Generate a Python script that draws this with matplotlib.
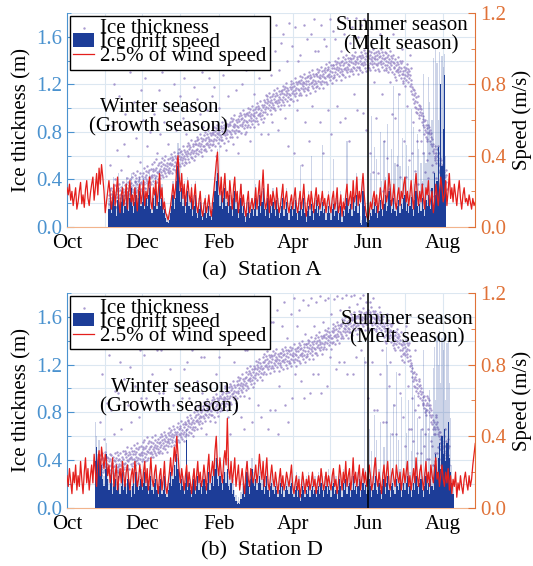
import matplotlib
matplotlib.use('Agg')
import matplotlib.pyplot as plt
import matplotlib.dates as mdates
from matplotlib.ticker import MultipleLocator, FormatStrFormatter
import numpy as np
import pandas as pd

plt.rcParams['font.family'] = ['Liberation Serif', 'DejaVu Serif']

BLUE_AX = '#4a92cf'
ORANGE_AX = '#e07238'
ICE_C = '#9a89c8'
DRIFT_C = '#1d3d98'
WIND_C = '#e41f1c'
GRID_C = '#dce7f1'

X_START = '2019-10-01'
X_END = '2020-08-27'
SEASON_SPLIT = '2020-06-01'

# ---- Station A ----  (values in cm or cm/s)
wind_start_a = '2019-10-01'   # daily, 2.5% of wind speed, one row per month
wind_a = """
22 18 24 15 20 12 17 22 10 14 20 25 13 18 11 21 26 16 12 19 24 28 15 22 30 18 33 24 35 28 20
8 14 20 26 18 10 16 24 12 20 28 14 8 18 22 12 16 24 10 20 26 14 18 12 22 16 9 20 24 13
18 26 12 20 16 24 28 14 10 22 18 26 12 20 30 16 22 10 14 8 6 4 8 12 18 24 16 22 34 40 28
20 30 16 24 12 20 26 18 14 22 10 16 24 12 8 14 20 10 6 12 16 8 12 18 10 6 14 20 28 36 42
24 18 28 14 22 30 16 20 12 26 18 10 22 28 14 20 8 16 24 12 18 10 6 14 20 8 12 16 10
14 22 10 18 26 12 20 32 16 10 14 24 8 18 12 20 16 10 22 14 8 12 18 24 10 16 20 12 8 14 18
10 16 22 12 8 14 20 10 16 24 12 6 14 18 10 20 14 8 16 22 12 18 10 14 20 12 16 8 14 18
12 8 16 20 10 14 22 8 12 18 6 14 10 18 24 12 16 20 10 26 14 18 28 12 20 14 22 30 18 10 6
4 8 14 10 16 20 12 18 8 14 22 16 10 20 26 14 18 30 22 12 16 24 14 10 18 22 12 20 16 24
28 14 20 12 18 26 16 10 22 30 18 12 20 14 24 16 10 22 18 26 12 16 20 8 14 24 18 12 20 28 22
14 18 26 12 20 30 16 22 14 24 18 12 20 26 16 10 18 22 14 16 12 18 14 10 16 12 14
"""
drift_start_a = '2019-11-04'  # daily ice drift speed (mean and peak)
drift_mean_a = """
10 16 8 14 20 12 6 15 22 10 14 18 8 12 20 14 9 16 22 12 8 14 18 10 16 20 12
14 20 10 16 12 18 22 10 8 16 12 20 10 14 24 12 16 8 10 5 3 2 4 8 12 18 10 16 26 34 20
14 22 12 18 8 14 20 12 10 16 6 12 18 8 5 10 14 6 4 8 12 5 8 12 6 4 10 14 20 26 30
18 12 20 10 16 22 12 14 8 18 12 6 16 20 10 14 5 10 16 8 12 6 3 8 14 5 8 10 6
10 16 6 12 18 8 14 22 10 6 10 16 5 12 8 14 10 6 15 10 5 8 12 16 6 10 14 8 4 10 12
6 10 15 8 4 9 14 6 10 16 8 3 9 12 6 13 9 4 10 15 8 12 6 9 14 8 10 4 8 12
8 4 10 13 6 9 15 4 8 12 3 9 6 12 16 8 10 13 6 17 9 12 18 8 13 2 1 20 12 6 3
2 4 8 6 10 14 8 12 5 9 15 10 6 13 18 9 12 20 15 8 10 16 9 6 12 15 8 13 10 16
18 9 13 8 12 17 10 6 15 20 12 8 13 9 16 10 6 15 12 18 14 10 22 12 30 18 26 45 20 80 34
55 85 20
"""
drift_peak_a = """
16 22 14 20 28 18 12 22 30 16 20 26 14 18 28 20 15 24 30 18 14 20 26 16 22 28 18
20 28 16 22 18 26 30 16 14 24 18 28 16 20 32 18 24 14 16 10 7 5 8 14 18 26 16 24 36 47 28
20 30 18 26 14 20 28 18 16 24 12 18 26 14 10 16 20 12 8 14 18 10 14 18 12 9 16 20 28 36 44
26 18 28 16 24 30 18 20 14 26 18 12 24 28 16 20 10 16 24 14 18 12 7 14 20 10 14 16 12
16 24 12 18 26 14 20 30 16 12 16 24 10 18 14 22 16 12 22 16 10 14 18 24 12 16 22 14 9 16 18
12 16 22 14 9 16 35 12 16 24 14 8 16 20 12 40 16 9 16 22 14 18 12 16 46 14 16 10 14 20
14 9 16 38 12 16 22 9 14 20 8 16 12 18 48 14 16 20 12 26 16 18 30 14 20 6 4 28 18 12 8
6 9 30 62 16 45 14 38 10 16 53 26 12 48 28 16 58 30 24 44 16 79 36 12 40 75 34 20 50 24
28 46 20 34 18 66 16 56 24 30 52 44 20 36 26 86 42 36 60 84 70 48 60 95 40 100 92 60 98 70 96
90 97 40
"""
ice_start_a = '2019-11-04'    # ice thickness, four readings per day, one row per week
ice_a = """
27 19 31 24 52 22 16 28 33 21 25 85 30 18 23 29 120 20 26 35 24 40 17 28 22 65 31 25
25 33 21 30 110 27 36 24 19 31 28 48 34 22 26 150 29 38 23 32 70 27 20 35 30 95 24 29
36 29 41 27 33 60 24 38 31 35 28 130 40 26 34 30 85 37 23 32 42 29 45 35 27 105 31 39
33 44 38 29 41 75 36 47 31 39 34 145 42 35 28 40 55 37 45 32 38 115 43 30 36 90 40 34
45 38 50 36 42 125 33 47 40 44 68 37 51 39 35 46 160 42 48 34 41 80 38 49 43 100 36 44
42 53 47 39 49 95 44 55 37 48 41 140 50 43 57 46 62 38 45 52 40 115 47 54 44 78 49 41
55 46 51 44 58 130 48 53 42 50 47 88 56 45 52 60 105 49 43 54 51 155 46 57 48 70 53 45
50 58 54 47 61 98 52 56 45 59 53 145 49 57 63 51 120 55 48 60 52 82 58 46 54 170 57 51
62 55 60 53 66 110 57 63 51 59 64 140 56 61 54 68 92 58 52 65 60 125 55 63 57 78 61 54
60 68 64 57 71 135 62 66 55 69 61 100 67 59 73 63 150 58 65 70 62 88 68 56 64 118 70 60
72 65 70 62 76 108 66 73 61 69 74 155 64 71 68 78 95 63 70 75 66 130 72 60 68 84 74 65
68 77 73 66 80 140 70 75 64 78 71 98 76 69 82 72 125 67 74 79 70 160 77 65 73 110 79 69
80 72 78 70 84 118 74 81 68 77 83 60 73 79 76 86 145 71 78 82 74 100 80 68 77 135 83 73
76 85 81 73 88 128 78 83 71 86 79 155 84 77 90 80 65 75 82 87 78 110 85 72 81 140 87 76
88 80 86 78 92 138 82 89 76 85 91 70 81 87 84 94 150 79 86 90 82 115 88 76 85 62 91 81
84 93 89 81 96 148 86 91 79 94 87 120 92 85 98 88 168 83 90 95 86 78 93 80 89 132 95 84
96 88 94 86 100 135 90 97 84 93 99 72 89 95 92 102 158 87 94 98 90 112 96 84 93 145 99 89
92 101 97 89 104 152 94 99 87 102 95 125 100 93 106 96 78 91 98 103 94 168 101 88 97 138 103 92
107 99 105 97 111 142 101 108 95 104 110 78 100 106 103 113 160 98 105 109 101 128 107 95 104 88 110 100
103 112 108 100 115 148 105 110 98 113 106 170 111 104 117 107 82 102 109 114 105 132 112 99 108 155 114 103
115 107 113 105 119 162 109 116 103 112 118 92 108 114 111 121 140 106 113 117 109 68 115 103 112 172 118 108
111 120 116 108 123 152 113 118 106 121 114 62 119 112 125 115 168 110 117 122 113 98 120 107 116 140 122 111
123 115 121 113 127 145 117 124 111 120 126 52 116 122 119 129 170 114 121 125 117 88 123 111 120 158 126 116
118 127 123 115 130 72 120 125 113 128 121 162 126 119 132 122 102 117 124 129 120 175 127 114 123 148 129 118
129 121 127 119 133 148 123 130 117 126 132 88 122 128 125 135 170 120 127 131 123 62 129 117 126 158 132 122
125 134 130 122 137 152 127 132 120 135 128 98 133 126 139 129 175 124 131 136 127 78 134 121 130 165 136 125
136 128 134 126 140 158 130 137 124 133 139 102 129 135 132 142 175 127 134 138 130 88 136 124 133 148 139 129
131 140 136 128 143 162 133 138 126 141 134 92 139 132 145 135 176 130 137 142 133 72 140 127 136 155 142 131
141 133 139 131 145 168 135 142 129 138 144 112 134 140 137 147 176 132 139 143 135 98 141 129 138 160 144 134
135 144 140 132 147 170 137 142 130 145 138 96 143 136 149 139 175 134 141 146 137 82 144 131 140 152 146 135
144 136 142 134 148 62 138 145 132 141 147 168 137 143 140 150 46 135 142 146 138 122 144 132 141 92 147 137
136 145 141 133 148 45 138 143 131 146 139 162 144 137 150 140 112 135 142 147 138 30 145 132 141 72 147 136
142 134 140 132 146 58 136 143 130 139 145 32 135 141 138 148 122 133 140 144 136 95 142 130 139 162 145 135
129 138 134 126 141 92 131 136 124 139 132 52 137 130 143 133 112 128 135 140 131 42 138 125 134 150 140 129
131 123 129 121 135 72 125 132 119 128 134 42 124 130 127 137 102 122 129 133 125 56 131 119 128 145 134 124
120 114 118 62 112 116 108 88 115 104 111 47 106 113 101 97 109 100 72 105 96 110 36 99 103 94 92 82
102 97 100 72 94 99 88 36 96 91 86 62 93 84 89 78 82 90 46 80 86 76 56 83 74 72 79 41
86 80 84 62 78 82 72 31 76 70 79 52 68 74 64 46 70 62 26 66 58 68 56 60 54 41 62 36
66 60 68 31 56 62 52 46 58 48 54 26 50 56 44 40 52 42 36 48 40 46 22 44 38 31 42 36
44 38 48 32
"""

# ---- Station D ----
wind_start_d = '2019-10-01'
wind_d = """
18 12 22 15 8 20 14 24 10 18 12 26 16 8 20 28 14 22 10 18 24 14 30 20 12 26 32 18 34 28 22
30 26 18 24 14 20 28 12 18 24 10 16 22 14 26 18 12 20 24 16 10 18 22 14 26 20 12 16 24 18
12 20 26 14 22 10 18 28 16 12 20 24 14 8 18 22 10 16 26 12 8 14 20 28 18 24 34 26 40 30 20
14 22 16 10 18 24 12 20 14 8 16 22 10 18 26 14 20 12 16 24 18 10 22 30 14 20 26 18 32 40 24
18 28 20 14 26 32 24 50 22 16 26 14 20 28 12 18 24 10 16 22 14 8 20 26 16 12 22 18 14
18 24 14 20 30 22 16 26 12 20 28 14 10 18 24 16 12 20 14 8 16 22 12 18 10 14 20 16 12 18 24
12 8 14 18 10 16 6 12 20 14 8 16 12 18 10 14 20 12 16 8 14 18 12 22 16 10 14 20 12 18
14 10 18 22 12 16 8 14 24 18 10 20 14 26 12 18 22 10 16 28 14 20 12 18 24 10 16 22 14 20 12
16 24 18 10 14 22 28 16 12 20 14 8 18 24 12 20 26 14 10 18 22 16 12 24 18 14 20 10 16 22
14 20 26 12 18 10 16 22 14 28 18 12 20 24 16 10 18 26 14 20 12 24 18 14 22 28 16 20 12 18 24
16 12 20 14 22 10 18 8 16 12 20 6 14 10 18 12 8 16 20 14 10 18 12 16 24 30 36
"""
drift_start_d = '2019-10-24'
drift_mean_d = """
26 34 20 30 18 24 16 12
22 30 16 10 14 20 8 12 16 10 14 18 8 12 20 10 14 8 16 18 10 6 12 16 8 20 14 10 12 16
10 14 20 12 16 8 12 18 10 8 14 16 10 6 12 16 8 10 18 8 6 10 14 20 12 16 24 18 30 22 14
10 16 12 8 14 38 10 14 10 6 12 16 8 12 18 10 14 8 12 16 12 8 14 20 10 14 18 12 22 28 16
12 18 14 10 16 20 14 22 12 10 14 8 10 6 4 2 3 2 5 8 12 6 14 20 12 8 16 22 14
12 16 10 14 18 14 10 16 8 12 18 10 6 12 14 10 8 12 10 6 10 14 8 12 6 10 12 10 8 12 14
8 6 10 12 6 10 4 8 12 10 6 10 8 12 6 10 12 8 10 6 10 12 8 14 10 6 10 12 8 12
10 6 12 14 8 10 5 10 16 12 6 14 10 16 8 12 14 6 10 18 10 12 8 12 16 6 10 14 10 13 8
10 16 12 6 10 14 18 10 8 14 10 5 12 16 8 14 18 10 6 12 14 10 8 16 12 10 14 6 10 14
10 14 18 8 12 6 10 14 10 18 12 8 14 16 10 6 12 18 10 14 8 16 12 10 24 30 20 28 36 22 40
30 44 26 36 48 28 20 14 8
"""
drift_peak_d = """
48 40 30 38 26 30 22 18
28 36 22 16 20 26 14 18 22 16 20 24 14 18 26 16 20 14 22 24 16 12 18 22 14 26 20 16 18 22
16 20 26 18 22 14 18 24 16 14 20 22 16 12 18 22 14 16 24 14 12 16 20 26 18 22 30 24 36 28 20
16 22 18 14 20 44 16 20 16 12 18 22 14 18 24 16 20 14 18 22 18 14 20 26 16 20 24 18 28 34 22
18 24 20 16 22 26 20 28 18 16 20 14 16 10 7 4 6 4 9 14 18 12 20 26 18 14 22 28 20
18 22 16 20 24 20 16 22 14 18 24 16 12 18 20 16 14 18 16 12 16 20 14 18 12 16 18 16 14 18 20
16 12 18 20 14 18 10 16 20 18 14 18 16 20 12 18 20 16 18 14 18 20 16 22 18 12 18 20 16 22
18 12 20 22 16 18 10 18 24 20 14 22 18 24 16 20 22 14 18 26 18 20 16 20 24 14 18 22 84 21 16
18 44 20 32 18 52 26 38 16 22 48 10 20 34 16 90 80 18 42 20 22 58 16 76 20 38 22 62 18 22
18 42 26 60 20 32 80 22 63 26 50 16 22 44 18 88 20 56 18 42 66 24 40 78 90 60 96 80 99 70 95
88 97 60 92 98 70 50 24 14
"""
ice_start_d = '2019-10-27'
ice_d = """
39 31 44 35 72 33 28 41 46 34 37 112 42 30 36 40 58 32 38 47 35 140 29 40 34 88 43 37
33 42 30 39 128 35 45 32 27 41 36 82 44 31 38 152 34 43 29 40 62 35 28 46 39 98 31 37
42 34 47 32 40 96 30 44 37 41 35 122 46 33 39 36 66 43 31 38 48 34 148 41 33 108 37 45
38 48 43 34 46 142 40 51 36 44 39 86 47 41 33 45 118 42 50 37 43 72 48 35 41 158 45 38
48 41 53 39 45 102 36 50 43 47 156 40 54 42 38 49 76 45 51 37 44 132 41 52 46 92 39 47
44 55 49 41 51 128 46 57 39 50 43 92 52 45 59 48 142 40 47 54 42 166 49 56 46 106 51 43
55 47 52 45 59 112 49 54 43 51 48 162 57 46 53 61 82 50 44 55 52 132 47 58 49 96 54 46
51 59 55 48 62 132 53 57 46 60 54 96 50 58 64 52 172 56 49 61 53 146 59 47 55 86 58 52
63 56 61 54 67 116 58 64 52 60 65 172 57 62 55 69 86 59 53 66 61 142 56 64 58 102 62 55
60 68 64 57 71 136 62 66 55 69 61 152 67 59 73 63 92 58 65 70 62 166 68 56 64 116 70 60
72 65 70 62 76 122 66 73 61 69 74 92 64 71 68 78 162 63 70 75 66 132 72 60 68 172 74 65
71 80 76 68 83 142 73 78 66 81 74 106 79 72 85 75 166 70 77 82 73 126 80 67 76 96 82 71
85 77 83 75 89 126 79 86 73 82 88 62 78 84 81 91 146 76 83 87 79 162 85 73 82 136 88 78
81 90 86 78 93 152 83 88 76 91 84 72 89 82 95 85 112 80 87 92 83 166 90 77 86 126 92 81
94 86 92 84 98 136 88 95 82 91 97 166 87 93 90 100 102 85 92 96 88 152 94 82 91 76 97 87
92 101 97 89 104 62 94 99 87 102 95 142 100 93 106 96 122 91 98 103 94 166 101 88 97 82 103 92
106 98 104 96 110 156 100 107 94 103 109 76 99 105 102 112 172 97 104 108 100 66 106 94 103 132 109 99
105 114 110 102 117 132 107 112 100 115 108 92 113 106 119 109 162 104 111 116 107 72 114 101 110 174 116 105
119 111 117 109 123 152 113 120 107 116 122 86 112 118 115 125 166 110 117 121 113 76 119 107 116 142 122 112
117 126 122 114 129 146 119 124 112 127 120 172 125 118 131 121 66 116 123 128 119 82 126 113 122 156 128 117
127 119 125 117 131 156 121 128 115 124 130 82 120 126 123 133 166 118 125 129 121 62 127 115 124 102 130 120
121 130 126 118 133 152 123 128 116 131 124 172 129 122 135 125 86 120 127 132 123 142 130 117 126 72 132 121
131 123 129 121 135 162 125 132 119 128 134 92 124 130 127 137 176 122 129 133 125 112 131 119 128 152 134 124
126 135 131 123 138 166 128 133 121 136 129 106 134 127 140 130 174 125 132 137 128 92 135 122 131 146 137 126
137 129 135 127 141 170 131 138 125 134 140 96 130 136 133 143 176 128 135 139 131 112 137 125 134 152 140 130
133 142 138 130 145 172 135 140 128 143 136 112 141 134 147 137 177 132 139 144 135 96 142 129 138 156 144 133
145 137 143 135 149 174 139 146 133 142 148 102 138 144 141 151 176 136 143 147 139 126 145 133 142 162 148 138
142 151 147 139 154 175 144 149 137 152 145 116 150 143 156 146 177 141 148 153 144 122 151 138 147 166 153 142
154 146 152 144 158 176 148 155 142 151 157 122 147 153 150 160 178 145 152 156 148 112 154 142 151 168 157 147
150 159 155 147 162 177 152 157 145 160 153 112 158 151 164 154 178 149 156 161 152 126 159 146 155 171 161 150
161 153 159 151 165 176 155 162 149 158 164 132 154 160 157 167 178 152 159 163 155 122 161 149 158 172 164 154
154 163 159 151 166 92 156 161 149 164 157 172 162 155 168 158 122 153 160 165 156 176 163 150 159 82 165 154
158 150 156 148 162 82 152 159 146 155 161 168 151 157 154 164 112 149 156 160 152 132 158 146 155 72 161 151
143 152 148 140 155 72 145 150 138 153 146 162 151 144 157 147 102 142 149 154 145 122 152 139 148 62 154 143
144 136 142 134 148 86 138 145 132 141 147 62 137 143 140 150 156 135 142 146 138 112 144 132 141 96 147 137
127 136 132 124 139 76 129 134 122 137 130 52 135 128 141 131 152 126 133 138 129 102 136 123 132 66 138 127
124 119 121 66 115 120 110 92 117 106 113 56 108 114 102 132 110 101 82 107 98 112 46 100 104 96 94 86
108 102 106 76 98 103 92 46 100 95 90 66 97 88 93 86 87 94 52 84 90 80 62 86 78 82 82 41
94 88 92 66 86 90 80 41 84 78 86 56 76 82 72 52 78 70 36 74 66 72 62 68 62 46 66 39
76 70 78 46 68 72 62 51 66 60 64 36 58 64 54 49 60 52 41 56 48 54 31 50 52 37 46 42
60 52 66 38 48 56 44 50 54 46 58 40 50 44 52 36
"""


def to_m(s):
    return np.array(s.split(), dtype=float) / 100.0


def day_axis(start, n, step_hours=24):
    t = pd.Timestamp(start) + pd.to_timedelta(np.arange(n) * step_hours, unit='h')
    return mdates.date2num(t.to_pydatetime())


def draw_panel(ax, wind_start, wind, drift_start, d_mean, d_peak, ice_start, ice,
               caption, cap_y, winter_xy, summer_xy):
    wind, d_mean, d_peak, ice = to_m(wind), to_m(d_mean), to_m(d_peak), to_m(ice)
    n = min(len(d_mean), len(d_peak))
    t_wind = day_axis(wind_start, len(wind))
    t_drift = day_axis(drift_start, n)
    t_ice = day_axis(ice_start, len(ice), 6)

    ax2 = ax.twinx()
    sc = ax.scatter(t_ice, ice, s=3, color=ICE_C, alpha=0.85, linewidths=0, zorder=2)
    ax2.bar(t_drift, d_peak[:n], width=1.0, color=DRIFT_C, alpha=0.22, linewidth=0)
    bars = ax2.bar(t_drift, d_mean[:n], width=1.0, color=DRIFT_C, linewidth=0)
    line, = ax2.plot(t_wind, wind, color=WIND_C, lw=0.9)
    ax2.axvline(mdates.date2num(pd.Timestamp(SEASON_SPLIT)), color='k', lw=1.1)

    ax.set_xlim(mdates.date2num(pd.Timestamp(X_START)), mdates.date2num(pd.Timestamp(X_END)))
    ax.set_ylim(0, 1.8)
    ax2.set_ylim(0, 1.2)

    ax.xaxis.set_major_locator(mdates.MonthLocator(bymonth=[10, 12, 2, 4, 6, 8]))
    ax.xaxis.set_minor_locator(mdates.MonthLocator())
    ax.xaxis.set_major_formatter(mdates.DateFormatter('%b'))
    for a in (ax, ax2):
        a.yaxis.set_major_locator(MultipleLocator(0.4))
        a.yaxis.set_minor_locator(MultipleLocator(0.2))
        a.yaxis.set_major_formatter(FormatStrFormatter('%.1f'))

    ax.grid(True, which='both', color=GRID_C, lw=0.8)
    ax.set_axisbelow(True)

    ax.tick_params(axis='y', which='both', colors=BLUE_AX, direction='in', labelsize=15)
    ax.tick_params(axis='y', which='major', length=5)
    ax.tick_params(axis='y', which='minor', length=3)
    ax.tick_params(axis='x', which='both', length=0, labelsize=15, pad=5)
    ax2.tick_params(axis='y', which='both', colors=ORANGE_AX, direction='in', labelsize=15)
    ax2.tick_params(axis='y', which='major', length=5)
    ax2.tick_params(axis='y', which='minor', length=3)

    for a in (ax, ax2):
        a.spines['top'].set_visible(False)
    ax.spines['right'].set_visible(False)
    ax2.spines['left'].set_visible(False)
    ax2.spines['bottom'].set_visible(False)
    ax.spines['left'].set_color(BLUE_AX)
    ax.spines['bottom'].set_color('#f2b48c')
    ax2.spines['right'].set_color(ORANGE_AX)

    ax.set_ylabel('Ice thickness (m)', fontsize=15, labelpad=3)
    ax2.set_ylabel('Speed (m/s)', fontsize=15, labelpad=4)

    ax.text(winter_xy[0], winter_xy[1], 'Winter season\n(Growth season)', transform=ax.transAxes,
            ha='center', va='center', fontsize=15, linespacing=1.0, zorder=5)
    ax2.text(summer_xy[0], summer_xy[1], 'Summer season\n(Melt season)', transform=ax.transAxes,
             ha='center', va='center', fontsize=15, linespacing=1.0, zorder=5)

    leg = ax2.legend([sc, bars, line], ['Ice thickness', 'Ice drift speed', '2.5% of wind speed'],
                     loc='upper left', fontsize=15, fancybox=False, edgecolor='k', framealpha=1,
                     borderaxespad=0.15, borderpad=0.15, labelspacing=-0.28, handlelength=1.0,
                     handletextpad=0.3, handleheight=0.6, scatterpoints=1)
    leg.get_frame().set_linewidth(1.0)
    leg.set_zorder(10)

    ax.figure.text(0.492, cap_y, caption, ha='center', va='center', fontsize=16)


fig = plt.figure(figsize=(5.33, 5.66), dpi=100)
ax_a = fig.add_axes([0.1257, 0.599, 0.766, 0.378])
ax_d = fig.add_axes([0.1257, 0.1025, 0.766, 0.380])

draw_panel(ax_a, wind_start_a, wind_a, drift_start_a, drift_mean_a, drift_peak_a,
           ice_start_a, ice_a, '(a)  Station A', 0.521, (0.225, 0.514), (0.819, 0.897))
draw_panel(ax_d, wind_start_d, wind_d, drift_start_d, drift_mean_d, drift_peak_d,
           ice_start_d, ice_d, '(b)  Station D', 0.027, (0.252, 0.516), (0.833, 0.833))

fig.savefig('out.png', dpi=100)
